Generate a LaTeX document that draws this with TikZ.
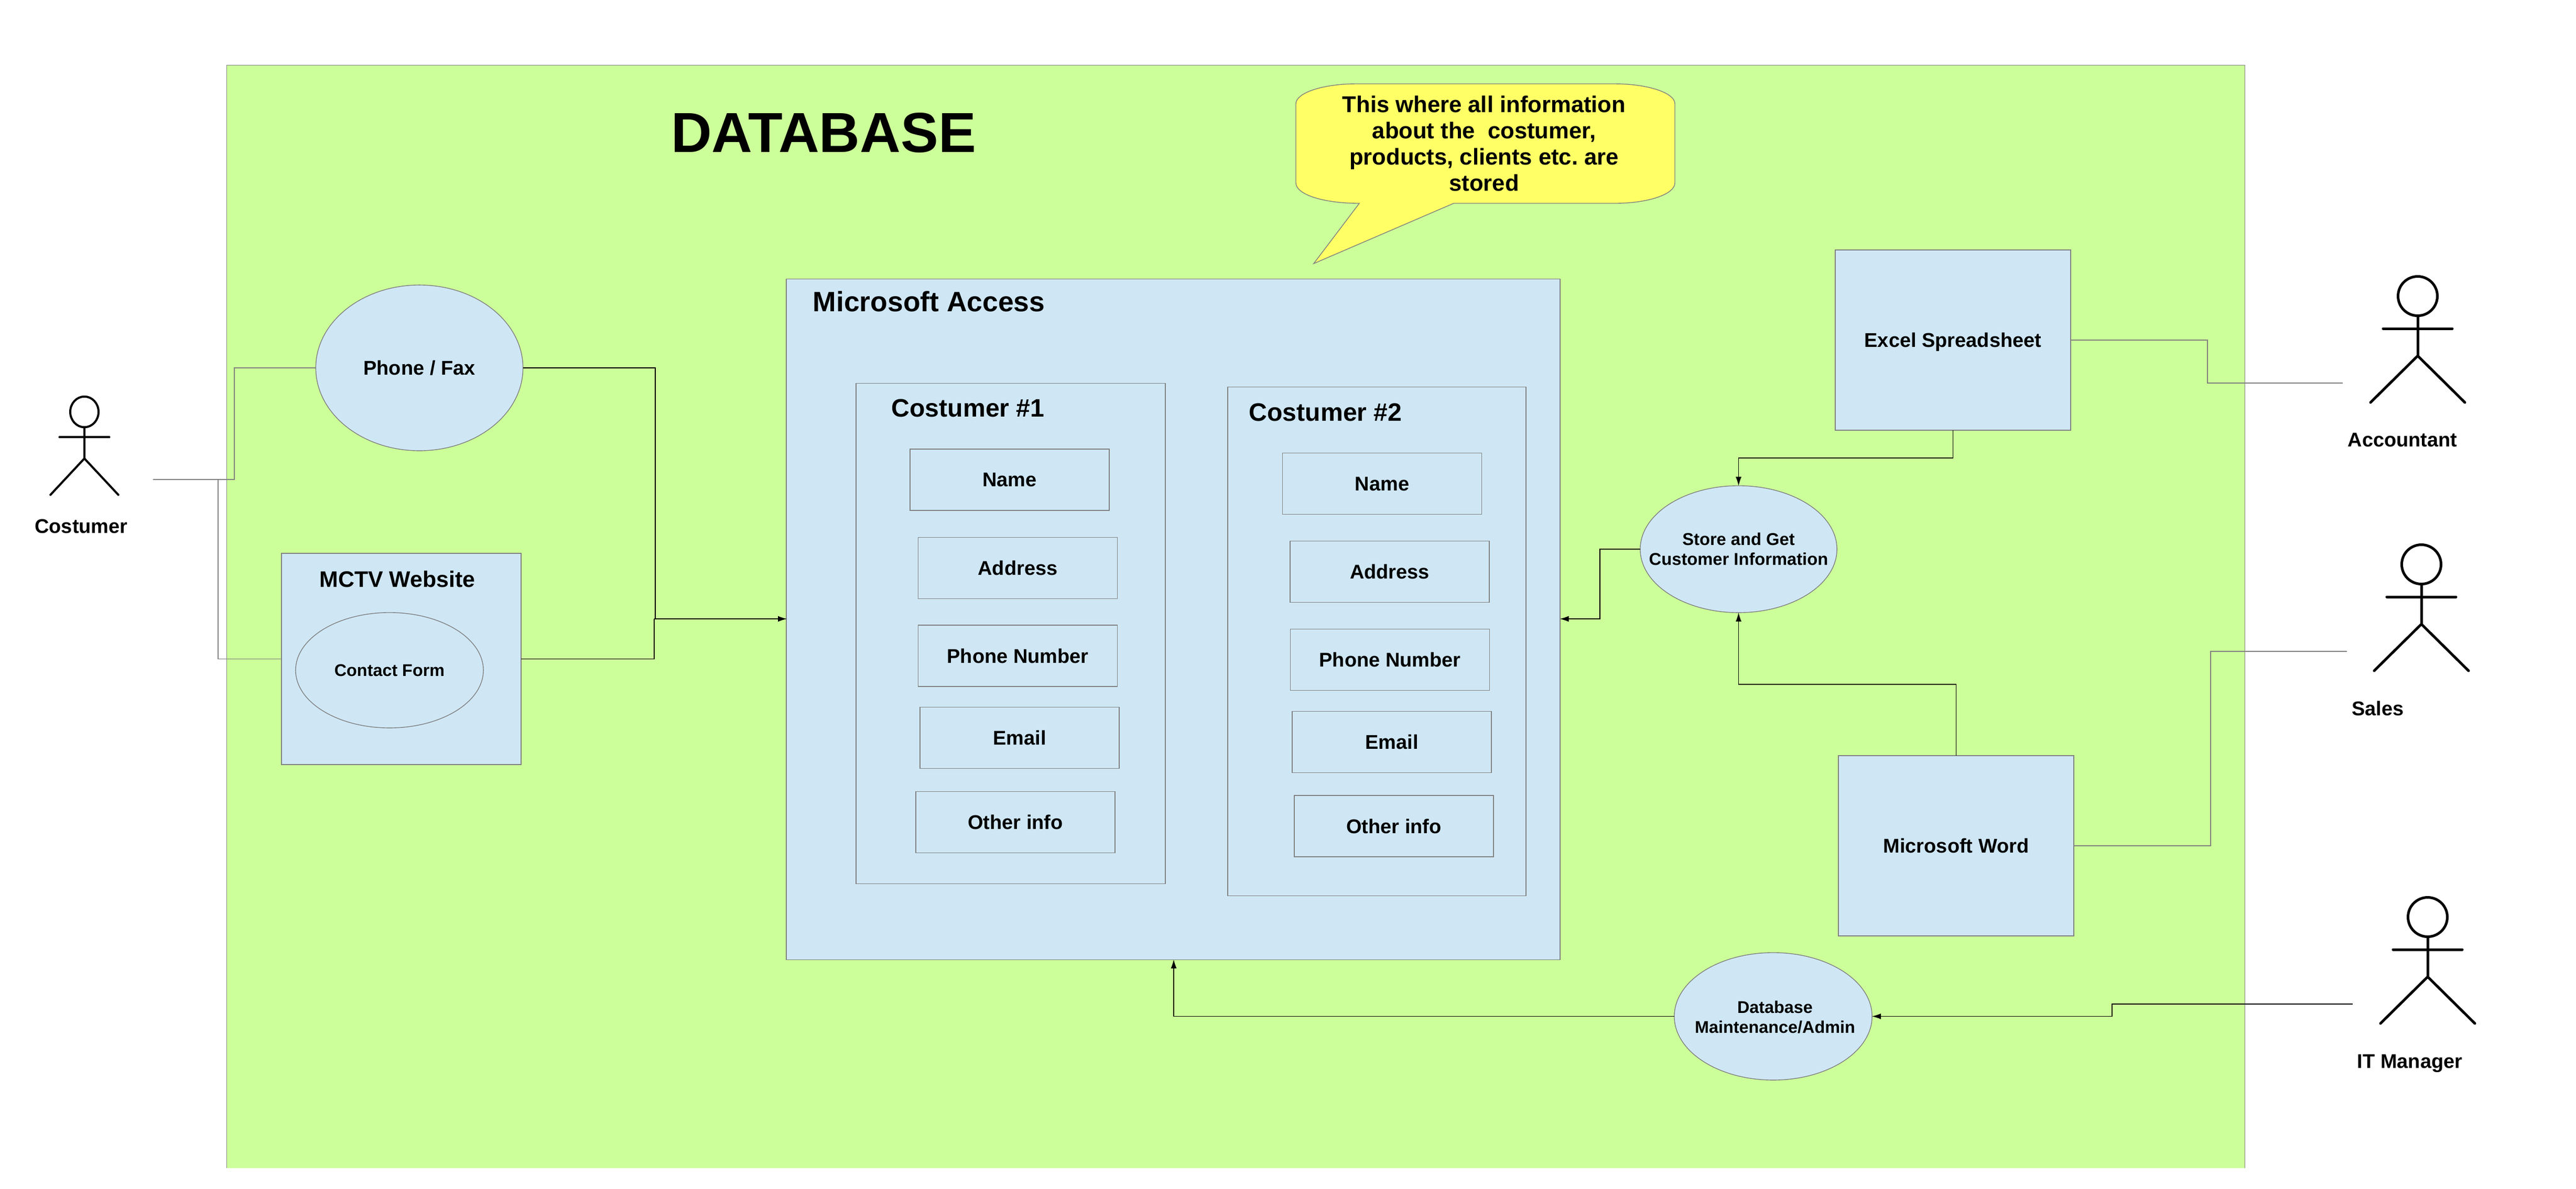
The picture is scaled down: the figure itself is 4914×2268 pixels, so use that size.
\documentclass[tikz,border=0pt]{standalone}
\usepackage{fontspec}
\setmainfont{Liberation Sans}
\usetikzlibrary{arrows.meta,shapes.geometric}

\definecolor{dbgreen}{HTML}{CCFF99}
\definecolor{boxblue}{HTML}{CFE7F5}
\definecolor{noteyellow}{HTML}{FFFF66}
\definecolor{edgegrey}{HTML}{808080}

\tikzset{
    box/.style={draw=edgegrey, fill=boxblue, line width=0.014cm, inner sep=0, outer sep=0, text depth=0pt, font=\bfseries\fontsize{10.8}{13}\selectfont},
    oval/.style={box, ellipse},
    field/.style={box, minimum width=3.80cm, minimum height=1.17cm},
    title/.style={font=\bfseries\fontsize{#1}{#1}\selectfont, inner sep=0, text depth=0pt},
    actorname/.style={title=10.8},
    wire/.style={line width=0.012cm, black},
    greywire/.style={line width=0.012cm, edgegrey},
    flow/.style={wire, -{Latex[length=0.17cm,width=0.11cm]}}
}

\newcommand{\actor}[5]{
    \begin{scope}[shift={(#1,#2)}, xscale=#3, yscale=#4, line width=#5, line cap=round]
        \draw (0,0) circle [radius=37.5];
        \draw (-66,62) -- (66,62);
        \draw (0,37.5) -- (0,114);
        \draw (-90,203) -- (0,114) -- (90,203);
    \end{scope}
}

\begin{document}
\begin{tikzpicture}[x=0.01cm, y=-0.01cm]
    \useasboundingbox (0,0) rectangle (4914,2268);

    % database area, no line along the bottom
    \node[fill=dbgreen, minimum width=38.47cm, minimum height=21.03cm, inner sep=0, outer sep=0] (dbarea) at (2357.5,1176.5) {};
    \draw[greywire] (dbarea.south west) |- (dbarea.north east) -- (dbarea.south east);
    \node[title=30.6] (dbtitle) at (1571,253) {DATABASE};

    % note
    \draw[draw=edgegrey, fill=noteyellow, line width=0.014cm] (2587,160) -- (3080,160)
        .. controls (3143,160) and (3195,177) .. (3195,198) -- (3195,349)
        .. controls (3195,371) and (3143,388) .. (3080,388) -- (2773,388) -- (2506,503) -- (2593,388)
        .. controls (2524,388) and (2472,371) .. (2472,349) -- (2472,198)
        .. controls (2472,177) and (2524,160) .. (2587,160) -- cycle;
    \node[title=12.4, align=center, font=\bfseries\fontsize{12.4}{14.2}\selectfont] (note) at (2831,274) {This where all information\\about the\ \ costumer,\\products, clients etc.\ are\\stored};

    % left side
    \node[oval, minimum width=3.95cm, minimum height=3.16cm] (phone) at (800,702) {Phone / Fax};
    \node[box, minimum width=4.57cm, minimum height=4.03cm] (mctv) at (765.5,1257.5) {};
    \node[title=12.2] (mctvtitle) at (758,1105) {MCTV Website};
    \node[oval, minimum width=3.58cm, minimum height=2.2cm, font=\bfseries\fontsize{9.2}{11}\selectfont] (contact) at (743,1279) {Contact Form};

    % access
    \node[box, minimum width=14.75cm, minimum height=12.98cm] (access) at (2238,1182) {};
    \node[title=15.2, anchor=west] (accesstitle) at (1550,575) {Microsoft Access};

    \node[box, minimum width=5.90cm, minimum height=9.54cm] (cust1) at (1928,1209) {};
    \node[title=13.7, anchor=west] (cust1title) at (1700,779) {Costumer \#1};
    \node[field] (name1) at (1926,915.5) {Name};
    \node[field] (addr1) at (1941.5,1084) {Address};
    \node[field] (tel1) at (1941.5,1251.5) {Phone Number};
    \node[field] (mail1) at (1945,1408) {Email};
    \node[field] (other1) at (1937,1569) {Other info};

    \node[box, minimum width=5.69cm, minimum height=9.70cm] (cust2) at (2626.5,1224) {};
    \node[title=13.7, anchor=west] (cust2title) at (2382,787) {Costumer \#2};
    \node[field] (name2) at (2636.5,923) {Name};
    \node[field] (addr2) at (2651,1091) {Address};
    \node[field] (tel2) at (2651.5,1259) {Phone Number};
    \node[field] (mail2) at (2655,1416) {Email};
    \node[field] (other2) at (2659,1576.5) {Other info};

    % right side
    \node[box, minimum width=4.49cm, minimum height=3.44cm] (excel) at (3725.5,649) {Excel Spreadsheet};
    \node[box, minimum width=4.49cm, minimum height=3.44cm] (word) at (3731.5,1614) {Microsoft Word};
    \node[oval, minimum width=3.75cm, minimum height=2.42cm] (store) at (3316.5,1048) {};
    \node[title=9.3, align=center, font=\bfseries\fontsize{9.3}{10.8}\selectfont] (storetext) at (store) {Store and Get\\Customer Information};
    \node[oval, minimum width=3.77cm, minimum height=2.43cm] (admin) at (3382.5,1939.5) {};
    \node[title=9.2, align=center, font=\bfseries\fontsize{9.2}{10.8}\selectfont] (admintext) at (3386,1941) {Database\\Maintenance/Admin};

    % actors
    \actor{161}{786}{0.72}{0.78}{0.04cm}
    \actor{4612}{565}{1}{1}{0.05cm}
    \actor{4619}{1077}{1}{1}{0.05cm}
    \actor{4631}{1750}{1}{1}{0.05cm}
    \node[actorname] (costumer) at (155,1004) {Costumer};
    \node[actorname] (accountant) at (4583,839) {Accountant};
    \node[actorname] (sales) at (4536,1352) {Sales};
    \node[actorname] (itmanager) at (4597,2025) {IT Manager};

    % free ends and bends of the connectors
    \coordinate (costend) at (292,915);
    \coordinate (costjoin) at (447,915);
    \coordinate (costdrop) at (416,915);
    \coordinate (busup) at (1250,1181);
    \coordinate (busdown) at (1248,1181);
    \coordinate (accessin) at (1501,1181);
    \coordinate (accessout) at (2975.5,1181);
    \coordinate (accessbot) at (2239,1831);
    \coordinate (storebend) at (3052,1048);
    \coordinate (excelbend) at (3725.5,874);
    \coordinate (wordbend) at (3731.5,1306);
    \coordinate (acctbend) at (4211,731);
    \coordinate (acctend) at (4469,731);
    \coordinate (salesbend) at (4217,1243);
    \coordinate (salesend) at (4477,1243);
    \coordinate (itend) at (4488,1916);
    \coordinate (itbend) at (4029,1916);

    \draw[greywire] (costend) -- (costjoin) |- (phone.west);
    \draw[greywire] (costdrop) |- (mctv.west);
    \draw[wire] (phone.east) -| (busup);
    \draw[wire] (mctv.east) -| (busdown);
    \draw[flow] (busdown) -- (accessin);
    \draw[flow] (store.west) -- (storebend) |- (accessout);
    \draw[flow] (excel.south) -- (excelbend) -| (store.north);
    \draw[flow] (word.north) -- (wordbend) -| (store.south);
    \draw[greywire] (excel.east) -| (acctbend) -- (acctend);
    \draw[greywire] (word.east) -| (salesbend) -- (salesend);
    \draw[flow] (itend) -- (itbend) |- (admin.east);
    \draw[flow] (admin.west) -| (accessbot);
\end{tikzpicture}
\end{document}
